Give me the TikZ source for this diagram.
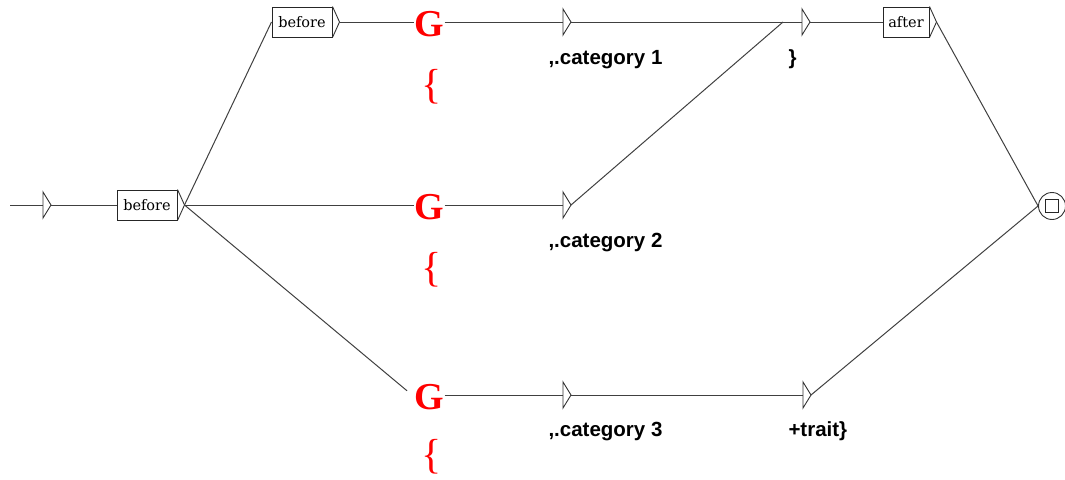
\documentclass[tikz,border=0pt]{standalone}
\usepackage{fontspec}
\setmainfont{DejaVu Serif}
\newfontfamily\lsans{Liberation Sans}
\newfontfamily\lserif{Liberation Serif}
\usetikzlibrary{calc}
\newcommand\utri[2]{%
  \coordinate (#1) at #2;
  \coordinate (#1tip) at ($(#1)+(8,0)$);
  \draw[trishape] ($(#1)+(0,-13)$) -- (#1tip) -- ($(#1)+(0,13)$) -- cycle;}
\begin{document}
\begin{tikzpicture}[x=1pt,y=-1pt,
  line width=1pt,
  trishape/.style={draw=black!80, line width=0.9pt, line join=miter},
  ubox/.style={draw=black!85, minimum height=30pt, inner sep=2pt,
    font=\fontsize{14.5}{14.5}\selectfont},
  gcall/.style={text=red, inner sep=0pt, anchor=base west,
    font=\lserif\bfseries\fontsize{38}{38}\selectfont},
  gbrace/.style={text=red, inner sep=0pt, anchor=base west,
    font=\lserif\fontsize{42}{42}\selectfont},
  lab/.style={anchor=base west, inner sep=0pt,
    font=\lsans\bfseries\fontsize{20.5}{20.5}\selectfont},
  conn/.style={draw=black!75, line width=1pt}]
\useasboundingbox (0,0) rectangle (1065,479);

% start
\coordinate (s0) at (10,205);
\utri{t0}{(43,205)}
\draw[conn] (s0) -- (t0);

% boxes
\node[ubox, minimum width=60pt] (b1) at (147,205) {before};
\coordinate (b1tip) at ($(b1.east)+(7,0)$);
\draw[trishape] (b1.north east) -- (b1tip) -- (b1.south east);
\draw[conn] (t0tip) -- (b1);

\node[ubox, minimum width=60pt] (btop) at (302,22) {before};
\coordinate (btoptip) at ($(btop.east)+(7,0)$);
\draw[trishape] (btop.north east) -- (btoptip) -- (btop.south east);

\node[ubox, minimum width=46pt] (aft) at (906,22) {after};
\coordinate (afttip) at ($(aft.east)+(7,0)$);
\draw[trishape] (aft.north east) -- (afttip) -- (aft.south east);

% G calls
\node[gcall] (g1) at (414,36) {G};
\node[gcall] (g2) at (414,219) {G};
\node[gcall] (g3) at (414,409) {G};
\node[gbrace] (br1) at (421,98) {\{};
\node[gbrace] (br2) at (421,281) {\{};
\node[gbrace] (br3) at (421,468) {\{};

% triangles
\utri{t1}{(563,22)}
\utri{t2}{(563,205)}
\utri{t3}{(563,395)}
\utri{t4}{(802,22)}
\utri{t5}{(803,395)}
\coordinate (j4) at ($(t4)+(-19,0)$);

% final state
\node[draw=black!80, circle, line width=0.9pt, minimum size=27pt, inner sep=0pt] (fin) at (1052,206) {};
\node[draw=black!85, line width=0.9pt, minimum size=13pt, inner sep=0pt] (finsq) at (fin.center) {};

% labels
\node[lab] (l1) at (548,64) {,.category 1};
\node[lab] (l2) at (548,247) {,.category 2};
\node[lab] (l3) at (548,436) {,.category 3};
\node[lab] (l4) at (788,64) {\}};
\node[lab] (l5) at (788,436) {+trait\}};

% connectors
\draw[conn] (b1tip) -- (btop.west);
\draw[conn] (b1tip) -- (g2.west |- b1tip);
\draw[conn, shorten >=9pt] (b1tip) -- (g3.west);
\draw[conn] (btoptip) -- (g1.west |- btoptip);
\draw[conn] (g1.east |- t1) -- (t1);
\draw[conn] (g2.east |- t2) -- (t2);
\draw[conn] (g3.east |- t3) -- (t3);
\draw[conn] (t1tip) -- (t4);
\draw[conn] (t2tip) -- (j4);
\draw[conn] (t3tip) -- (t5);
\draw[conn] (t4tip) -- (aft.west);
\draw[conn] (afttip) -- (fin.west);
\draw[conn] (t5tip) -- (fin.west);
\end{tikzpicture}
\end{document}
